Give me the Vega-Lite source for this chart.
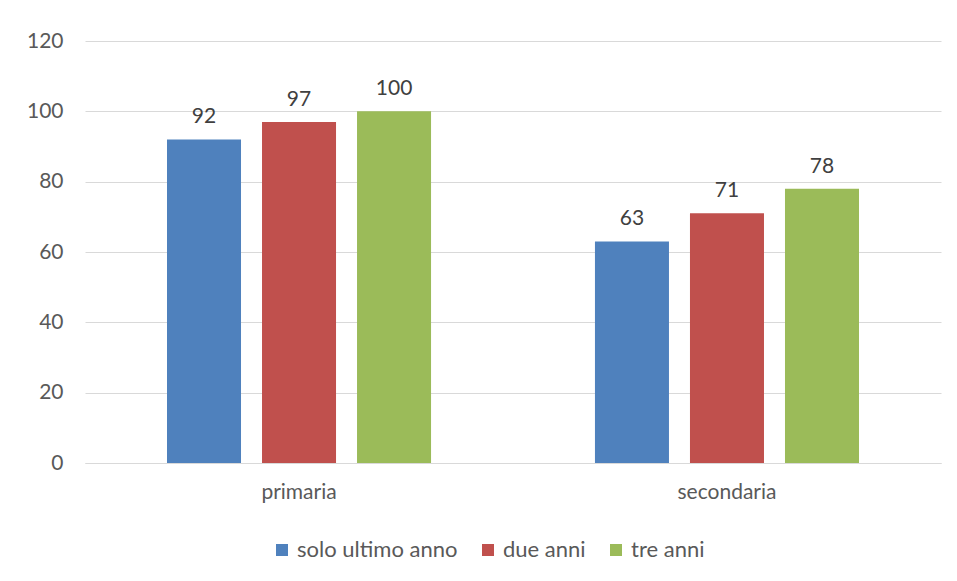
{
  "$schema": "https://vega.github.io/schema/vega-lite/v6.json",
  "autosize": {"type": "none"},
  "width": 856,
  "height": 422,
  "padding": {"left": 85, "top": 41, "right": 16, "bottom": 118},
  "background": "white",
  "config": {
    "view": {"stroke": null},
    "font": "Lato",
    "axis": {"labelFont": "Lato", "labelColor": "#595959", "labelFontSize": 21, "gridColor": "#D9D9D9", "domainColor": "#D9D9D9", "ticks": false, "title": null},
    "legend": {"labelFont": "Lato", "labelColor": "#595959", "labelFontSize": 22, "labelLimit": 400}
  },
  "data": {
    "values": [
      {"livello": "primaria", "serie": "solo ultimo anno", "valore": 92},
      {"livello": "primaria", "serie": "due anni", "valore": 97},
      {"livello": "primaria", "serie": "tre anni", "valore": 100},
      {"livello": "secondaria", "serie": "solo ultimo anno", "valore": 63},
      {"livello": "secondaria", "serie": "due anni", "valore": 71},
      {"livello": "secondaria", "serie": "tre anni", "valore": 78}
    ]
  },
  "encoding": {
    "x": {
      "field": "livello", "type": "nominal", "sort": ["primaria", "secondaria"],
      "scale": {"paddingInner": 0.383, "paddingOuter": 0.1916},
      "axis": {"labelAngle": 0, "labelPadding": 18, "grid": false, "domain": true}
    },
    "xOffset": {
      "field": "serie", "type": "nominal", "sort": ["solo ultimo anno", "due anni", "tre anni"],
      "scale": {"paddingInner": 0.221, "paddingOuter": 0}
    },
    "y": {
      "field": "valore", "type": "quantitative",
      "scale": {"domain": [0, 120], "nice": false},
      "axis": {"values": [0, 20, 40, 60, 80, 100, 120], "labelPadding": 22, "domain": false, "grid": true}
    }
  },
  "layer": [
    {
      "mark": {"type": "bar"},
      "encoding": {
        "color": {
          "field": "serie", "type": "nominal", "sort": ["solo ultimo anno", "due anni", "tre anni"],
          "scale": {"domain": ["solo ultimo anno", "due anni", "tre anni"], "range": ["#4F81BD", "#C0504D", "#9BBB59"]},
          "legend": {"title": null, "orient": "none", "legendX": 186, "legendY": 498, "direction": "horizontal", "symbolType": "square", "symbolSize": 144, "symbolStrokeWidth": 0, "labelOffset": 4, "columnPadding": 19}
        }
      }
    },
    {
      "mark": {"type": "text", "baseline": "bottom", "dy": -12, "fontSize": 21, "color": "#404040", "font": "Lato"},
      "encoding": {"text": {"field": "valore", "type": "quantitative"}}
    }
  ]
}
